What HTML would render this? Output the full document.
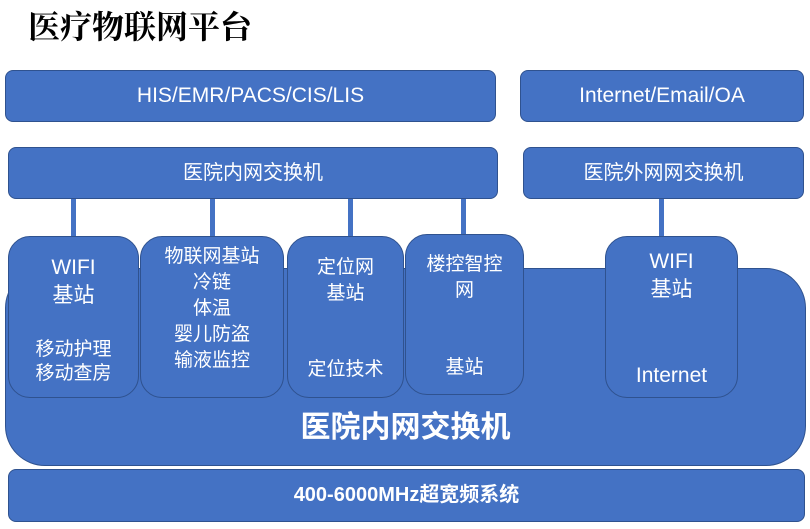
<!DOCTYPE html>
<html><head><meta charset="utf-8"><style>
body{margin:0;width:810px;height:529px;background:#fff;position:relative;overflow:hidden;font-family:"Liberation Sans","Noto Sans CJK SC",sans-serif;}
.b{position:absolute;background:#4472C4;border:1.5px solid #2F528F;box-sizing:border-box;color:#fff;text-align:center;}
.l{position:absolute;width:5px;background:#4472C4;top:199px;height:38px;}
.t{position:absolute;color:#fff;text-align:center;font-size:19px;line-height:24px;}
</style></head><body>
<div style="position:absolute;left:28px;top:2px;font:bold 32px 'Liberation Serif','Noto Serif CJK SC',serif;color:#000;">医疗物联网平台</div>
<div class="b" style="left:5px;top:70px;width:491px;height:52px;border-radius:8px;font-size:21px;line-height:50px;">HIS/EMR/PACS/CIS/LIS</div>
<div class="b" style="left:520px;top:70px;width:284px;height:52px;border-radius:8px;font-size:21px;line-height:50px;">Internet/Email/OA</div>
<div class="b" style="left:8px;top:147px;width:490px;height:52px;border-radius:8px;font-size:20px;line-height:50px;">医院内网交换机</div>
<div class="b" style="left:523px;top:147px;width:281px;height:52px;border-radius:8px;font-size:20px;line-height:50px;">医院外网网交换机</div>
<div class="l" style="left:71px"></div><div class="l" style="left:210px"></div><div class="l" style="left:348px"></div><div class="l" style="left:461px"></div><div class="l" style="left:659px"></div>
<div class="b" style="left:5px;top:268px;width:801px;height:198px;border-radius:40px;"></div>
<div class="t" style="left:5px;top:410px;width:801px;font-size:30px;line-height:36px;font-weight:bold;">医院内网交换机</div>
<div class="b" style="left:8px;top:236px;width:131px;height:162px;border-radius:22px;"></div>
<div class="b" style="left:140px;top:236px;width:144px;height:162px;border-radius:22px;"></div>
<div class="b" style="left:287px;top:236px;width:117px;height:162px;border-radius:22px;"></div>
<div class="b" style="left:405px;top:234px;width:119px;height:161px;border-radius:22px;"></div>
<div class="b" style="left:605px;top:236px;width:133px;height:162px;border-radius:22px;"></div>
<div class="t" style="left:8px;top:254px;width:131px;font-size:21px;line-height:28px;">WIFI<br>基站</div>
<div class="t" style="left:8px;top:338px;width:131px;">移动护理<br>移动查房</div>
<div class="t" style="left:140px;top:244px;width:144px;line-height:26px;">物联网基站<br>冷链<br>体温<br>婴儿防盗<br>输液监控</div>
<div class="t" style="left:287px;top:255px;width:117px;line-height:26px;">定位网<br>基站</div>
<div class="t" style="left:287px;top:358px;width:117px;">定位技术</div>
<div class="t" style="left:405px;top:252px;width:119px;line-height:26px;">楼控智控<br>网</div>
<div class="t" style="left:405px;top:356px;width:119px;">基站</div>
<div class="t" style="left:605px;top:248px;width:133px;font-size:21px;line-height:28px;">WIFI<br>基站</div>
<div class="t" style="left:605px;top:364px;width:133px;font-size:21px;">Internet</div>
<div class="b" style="left:8px;top:469px;width:797px;height:53px;border-radius:8px;font-size:20px;line-height:51px;font-weight:bold;">400-6000MHz超宽频系统</div>
</body></html>
